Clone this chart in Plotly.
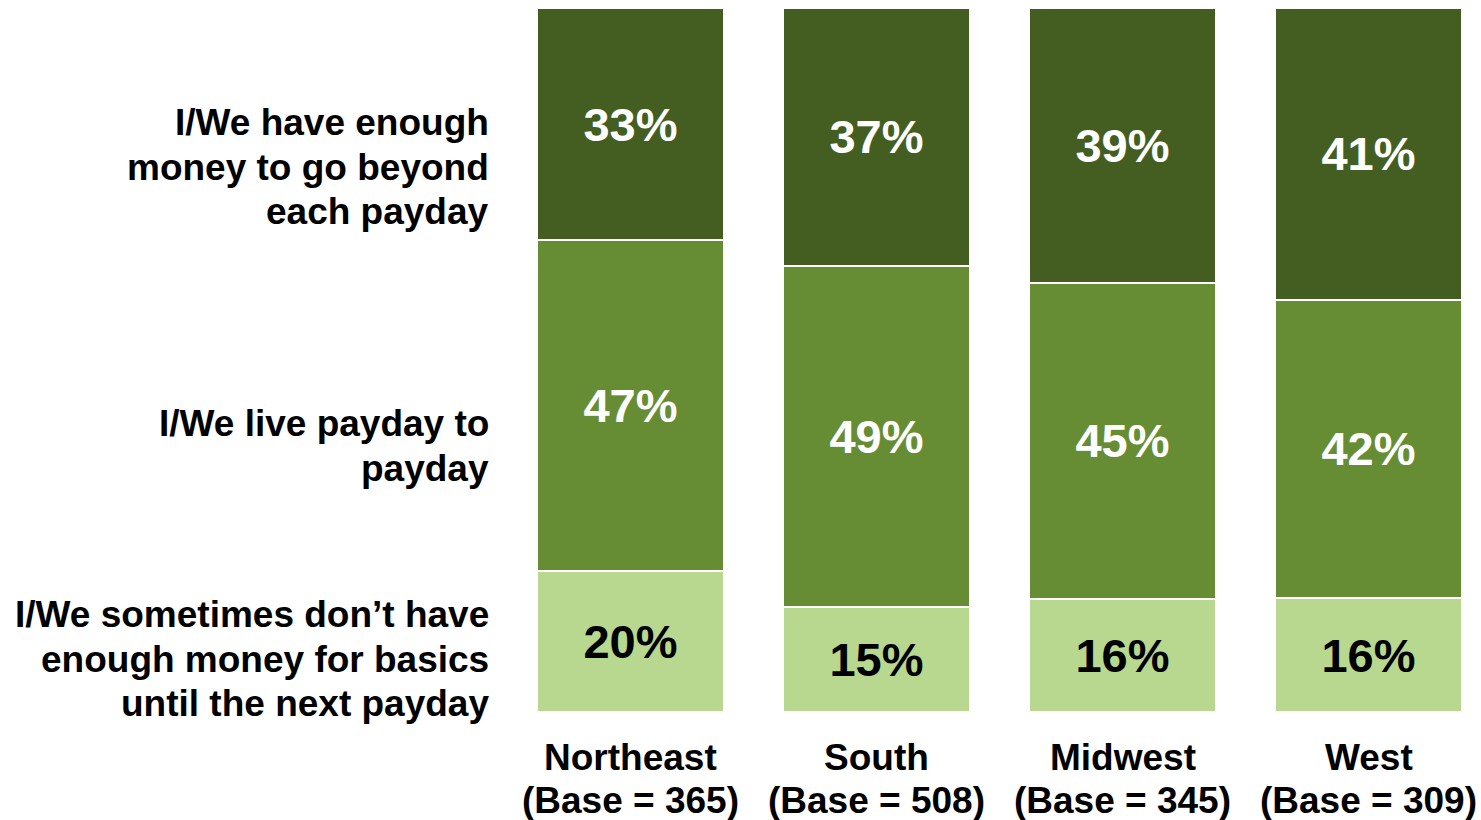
import plotly.graph_objects as go

# ── Data ──────────────────────────────────────────────────────────────────────

REGIONS = ["Northeast", "South", "Midwest", "West"]
BASES   = [365, 508, 345, 309]

SHORT   = [20, 15, 16, 16]   # sometimes don't have enough for basics
PAYDAY  = [47, 49, 45, 42]   # live payday to payday
BEYOND  = [33, 37, 39, 41]   # enough money to go beyond each payday

SERIES_LABELS = [
    ["I/We sometimes don\u2019t have", "enough money for basics", "until the next payday"],
    ["I/We live payday to", "payday"],
    ["I/We have enough", "money to go beyond", "each payday"],
]

# ── Style ─────────────────────────────────────────────────────────────────────

DARK  = "#445e22"
MID   = "#678d34"
LIGHT = "#b8d88f"
FONT  = "Liberation Sans, Arial, Helvetica, sans-serif"

W, H      = 1481, 820
TOP       = 8
PLOT_H    = 704
LINE_GAP  = 44.5                 # px between label lines
LABEL_CENTERS = [659, 446, 167]  # px from top, centre of each left label

x_pos = list(range(len(REGIONS)))

fig = go.Figure()

for vals, color, txt_color in [
    (SHORT,  LIGHT, "black"),
    (PAYDAY, MID,   "white"),
    (BEYOND, DARK,  "white"),
]:
    fig.add_trace(go.Bar(
        x            = x_pos,
        y            = vals,
        width        = 0.76,
        marker       = dict(color=color, line=dict(color="white", width=2)),
        text         = [f"<b>{v}%</b>" for v in vals],
        textposition = "inside",
        insidetextanchor = "middle",
        textfont     = dict(family=FONT, size=47, color=txt_color),
        hoverinfo    = "skip",
    ))

# region labels under the bars
for i, (region, base) in enumerate(zip(REGIONS, BASES)):
    for line, shift in [(region, -45), (f"(Base = {base})", -88)]:
        fig.add_annotation(
            x=i, xref="x", y=0, yref="paper",
            yanchor="middle", yshift=shift,
            text=f"<b>{line}</b>",
            showarrow=False,
            font=dict(family=FONT, size=37, color="black"),
        )

# series labels on the left, one annotation per line
for lines, cy in zip(SERIES_LABELS, LABEL_CENTERS):
    n = len(lines)
    for k, line in enumerate(lines):
        py = cy + (k - (n - 1) / 2) * LINE_GAP - TOP
        fig.add_annotation(
            x=-0.027, xref="paper", y=(PLOT_H - py) / PLOT_H, yref="paper",
            xanchor="right", yanchor="middle", align="right",
            text=f"<b>{line}</b>",
            showarrow=False,
            font=dict(family=FONT, size=37, color="black"),
        )

fig.update_layout(
    width=W, height=H,
    barmode="stack",
    barnorm="percent",
    showlegend=False,
    paper_bgcolor="white",
    plot_bgcolor="white",
    margin=dict(l=517, r=0, t=TOP, b=H - TOP - PLOT_H),
    xaxis=dict(range=[-0.4614, 3.4573], visible=False),
    yaxis=dict(range=[0, 100], visible=False),
    uniformtext=dict(minsize=47, mode="show"),
)

# drop the default body margin so the figure sits at the page corner
fig.write_html(
    "out.html",
    config={"displayModeBar": False},
    post_script="document.body.style.margin='0';",
)
